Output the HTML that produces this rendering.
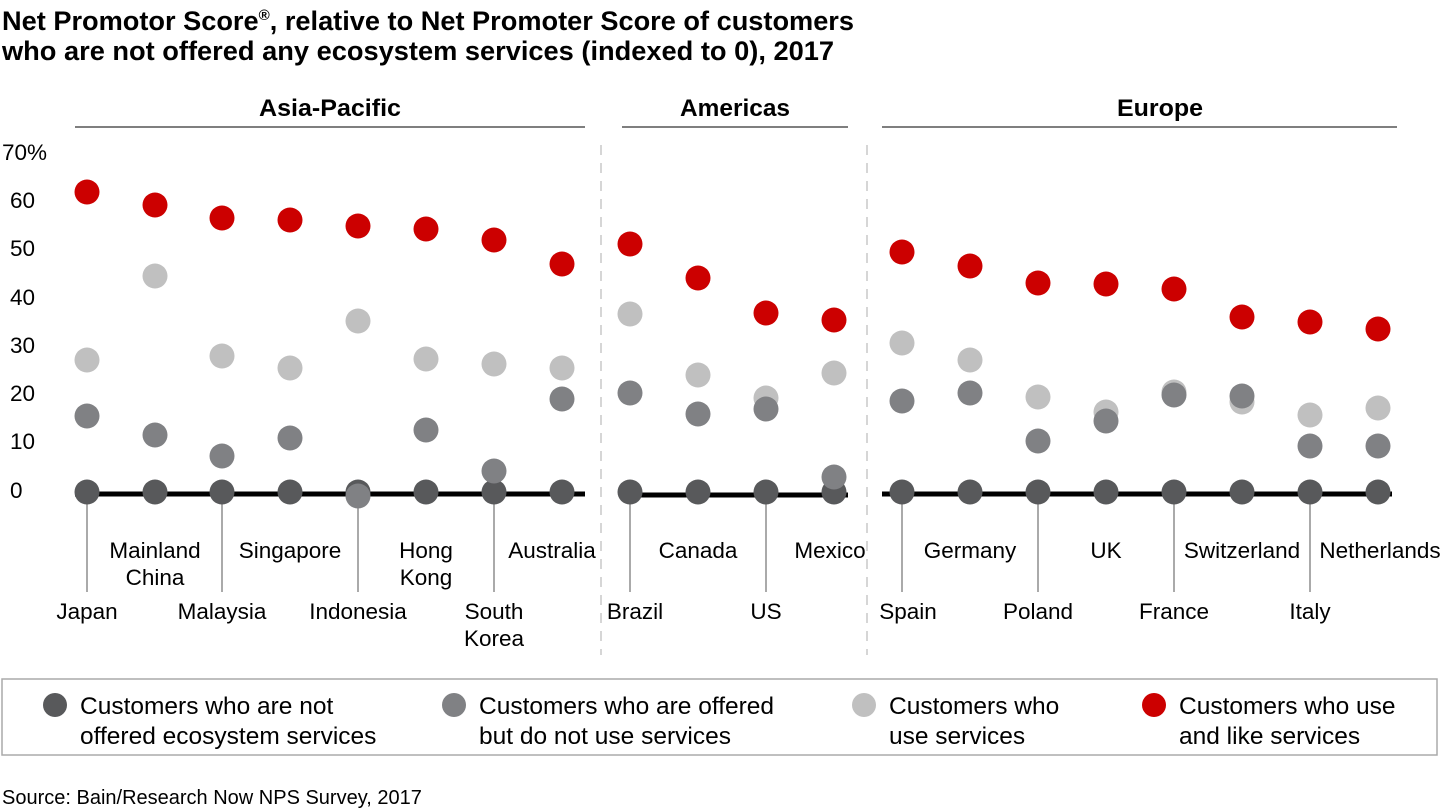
<!DOCTYPE html><html><head><meta charset="utf-8"><style>body{margin:0;background:#fff}svg{display:block}text{font-family:"Liberation Sans",Arial,sans-serif}</style></head><body>
<svg width="1440" height="810" xmlns="http://www.w3.org/2000/svg">
<g font-weight="bold" font-size="27" fill="#000">
<text x="2" y="30" textLength="852" lengthAdjust="spacingAndGlyphs">Net Promotor Score<tspan font-size="15" dy="-10">®</tspan><tspan dy="10">, relative to Net Promoter Score of customers</tspan></text>
<text x="2" y="60" textLength="832" lengthAdjust="spacingAndGlyphs">who are not offered any ecosystem services (indexed to 0), 2017</text>
</g>
<g font-weight="bold" font-size="24" text-anchor="middle">
<text x="330" y="116" textLength="142" lengthAdjust="spacingAndGlyphs">Asia-Pacific</text>
<text x="735" y="116" textLength="110" lengthAdjust="spacingAndGlyphs">Americas</text>
<text x="1160" y="116" textLength="86" lengthAdjust="spacingAndGlyphs">Europe</text>
</g>
<g stroke="#555" stroke-width="1.5"><line x1="75" y1="127" x2="585" y2="127"/><line x1="622" y1="127" x2="848" y2="127"/><line x1="882" y1="127" x2="1397" y2="127"/></g>
<g stroke="#c8c8c8" stroke-width="1.5" stroke-dasharray="10,8"><line x1="601" y1="145" x2="601" y2="655"/><line x1="867" y1="145" x2="867" y2="655"/></g>
<g font-size="22.5" fill="#000">
<text x="2" y="160">70%</text><text x="10" y="208">60</text><text x="10" y="256">50</text><text x="10" y="305">40</text><text x="10" y="353">30</text><text x="10" y="401">20</text><text x="10" y="449">10</text><text x="10" y="498">0</text>
</g>
<g stroke="#000" stroke-width="5"><line x1="75" y1="494" x2="585" y2="494"/><line x1="620" y1="495" x2="848" y2="495"/><line x1="882" y1="494" x2="1392" y2="494"/></g>
<g stroke="#555" stroke-width="1"><line x1="87" y1="494" x2="87" y2="592"/><line x1="222" y1="494" x2="222" y2="592"/><line x1="358" y1="494" x2="358" y2="592"/><line x1="494" y1="494" x2="494" y2="592"/><line x1="630" y1="494" x2="630" y2="592"/><line x1="766" y1="494" x2="766" y2="592"/><line x1="902" y1="494" x2="902" y2="592"/><line x1="1038" y1="494" x2="1038" y2="592"/><line x1="1174" y1="494" x2="1174" y2="592"/><line x1="1310" y1="494" x2="1310" y2="592"/></g>
<g font-size="22.5" text-anchor="middle" fill="#000">
<text x="87" y="619">Japan</text><text x="155" y="558">Mainland</text><text x="155" y="585">China</text><text x="222" y="619">Malaysia</text><text x="290" y="558">Singapore</text><text x="358" y="619">Indonesia</text><text x="426" y="558">Hong</text><text x="426" y="585">Kong</text><text x="494" y="619">South</text><text x="494" y="646">Korea</text><text x="552" y="558">Australia</text>
<text x="635" y="619">Brazil</text><text x="698" y="558">Canada</text><text x="766" y="619">US</text><text x="830" y="558">Mexico</text>
<text x="908" y="619">Spain</text><text x="970" y="558">Germany</text><text x="1038" y="619">Poland</text><text x="1106" y="558">UK</text><text x="1174" y="619">France</text><text x="1242" y="558">Switzerland</text><text x="1310" y="619">Italy</text><text x="1380" y="558">Netherlands</text>
</g>
<g fill="#58595b">
<circle cx="87" cy="492" r="12.5"/><circle cx="155" cy="492" r="12.5"/><circle cx="222" cy="492" r="12.5"/><circle cx="290" cy="492" r="12.5"/><circle cx="358" cy="492" r="12.5"/><circle cx="426" cy="492" r="12.5"/><circle cx="494" cy="492" r="12.5"/><circle cx="562" cy="492" r="12.5"/><circle cx="630" cy="492" r="12.5"/><circle cx="698" cy="492" r="12.5"/><circle cx="766" cy="492" r="12.5"/><circle cx="834" cy="492" r="12.5"/><circle cx="902" cy="492" r="12.5"/><circle cx="970" cy="492" r="12.5"/><circle cx="1038" cy="492" r="12.5"/><circle cx="1106" cy="492" r="12.5"/><circle cx="1174" cy="492" r="12.5"/><circle cx="1242" cy="492" r="12.5"/><circle cx="1310" cy="492" r="12.5"/><circle cx="1378" cy="492" r="12.5"/>
</g>
<g fill="#c0c0c0">
<circle cx="87" cy="360" r="12.5"/><circle cx="155" cy="276" r="12.5"/><circle cx="222" cy="356" r="12.5"/><circle cx="290" cy="368" r="12.5"/><circle cx="358" cy="321" r="12.5"/><circle cx="426" cy="359" r="12.5"/><circle cx="494" cy="364" r="12.5"/><circle cx="562" cy="368" r="12.5"/><circle cx="630" cy="314" r="12.5"/><circle cx="698" cy="375" r="12.5"/><circle cx="766" cy="398" r="12.5"/><circle cx="834" cy="373" r="12.5"/><circle cx="902" cy="343" r="12.5"/><circle cx="970" cy="360" r="12.5"/><circle cx="1038" cy="397" r="12.5"/><circle cx="1106" cy="412" r="12.5"/><circle cx="1174" cy="392" r="12.5"/><circle cx="1242" cy="402" r="12.5"/><circle cx="1310" cy="415" r="12.5"/><circle cx="1378" cy="408" r="12.5"/>
</g>
<g fill="#808184">
<circle cx="87" cy="416" r="12.5"/><circle cx="155" cy="435" r="12.5"/><circle cx="222" cy="456" r="12.5"/><circle cx="290" cy="438" r="12.5"/><circle cx="358" cy="496" r="12.5"/><circle cx="426" cy="430" r="12.5"/><circle cx="494" cy="471" r="12.5"/><circle cx="562" cy="399" r="12.5"/><circle cx="630" cy="393" r="12.5"/><circle cx="698" cy="414" r="12.5"/><circle cx="766" cy="409" r="12.5"/><circle cx="834" cy="477" r="12.5"/><circle cx="902" cy="401" r="12.5"/><circle cx="970" cy="393" r="12.5"/><circle cx="1038" cy="441" r="12.5"/><circle cx="1106" cy="421" r="12.5"/><circle cx="1174" cy="395" r="12.5"/><circle cx="1242" cy="396" r="12.5"/><circle cx="1310" cy="446" r="12.5"/><circle cx="1378" cy="446" r="12.5"/>
</g>
<g fill="#cc0000">
<circle cx="87" cy="192" r="12.5"/><circle cx="155" cy="205" r="12.5"/><circle cx="222" cy="218" r="12.5"/><circle cx="290" cy="220" r="12.5"/><circle cx="358" cy="226" r="12.5"/><circle cx="426" cy="229" r="12.5"/><circle cx="494" cy="240" r="12.5"/><circle cx="562" cy="264" r="12.5"/><circle cx="630" cy="244" r="12.5"/><circle cx="698" cy="278" r="12.5"/><circle cx="766" cy="313" r="12.5"/><circle cx="834" cy="320" r="12.5"/><circle cx="902" cy="252" r="12.5"/><circle cx="970" cy="266" r="12.5"/><circle cx="1038" cy="283" r="12.5"/><circle cx="1106" cy="284" r="12.5"/><circle cx="1174" cy="289" r="12.5"/><circle cx="1242" cy="317" r="12.5"/><circle cx="1310" cy="322" r="12.5"/><circle cx="1378" cy="329" r="12.5"/>
</g>
<rect x="2" y="679" width="1435" height="76" fill="none" stroke="#aaa" stroke-width="1.5"/>
<circle cx="55" cy="705" r="12" fill="#58595b"/><circle cx="454" cy="705" r="12" fill="#808184"/><circle cx="864" cy="705" r="12" fill="#c0c0c0"/><circle cx="1154" cy="705" r="12" fill="#cc0000"/>
<g font-size="24.5" fill="#000">
<text x="80" y="714">Customers who are not</text><text x="80" y="744">offered ecosystem services</text>
<text x="479" y="714">Customers who are offered</text><text x="479" y="744">but do not use services</text>
<text x="889" y="714">Customers who</text><text x="889" y="744">use services</text>
<text x="1179" y="714">Customers who use</text><text x="1179" y="744">and like services</text>
</g>
<text x="2" y="804" font-size="20" fill="#000">Source: Bain/Research Now NPS Survey, 2017</text>
</svg>
</body></html>
